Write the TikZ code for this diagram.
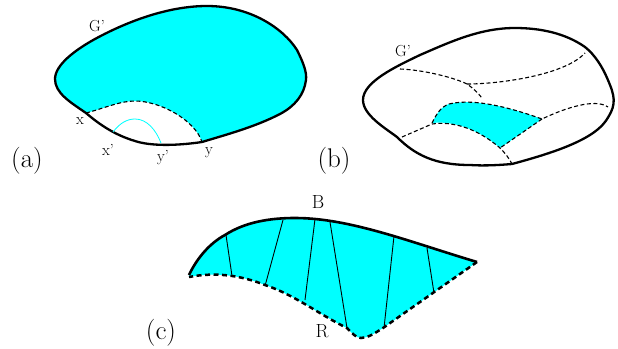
\documentclass[tikz,border=0pt]{standalone}
\definecolor{aqua}{RGB}{0,255,255}
\begin{document}
\begin{tikzpicture}[x=1pt,y=-1pt,
  thickline/.style={black,line width=2.3pt,line join=round},
  dashline/.style={black,line width=1.1pt,dash pattern=on 4pt off 2.5pt},
  boldDash/.style={black,line width=2.5pt,dash pattern=on 5pt off 3.5pt},
  chord/.style={black,line width=.9pt},
  smalllab/.style={font=\fontsize{16}{16}\selectfont,inner sep=0pt},
  midlab/.style={font=\fontsize{19}{19}\selectfont,inner sep=0pt},
  biglab/.style={font=\fontsize{27}{27}\selectfont,inner sep=0pt}]
\useasboundingbox (0,0) rectangle (618,348);
% (a)
\fill[aqua] (86,113) .. controls (70,102) and (55,93) .. (55,79) .. controls (55,65) and (75,50) .. (95,39) .. controls (130,20) and (170,6) .. (207,6) .. controls (250,6) and (283,28) .. (297,50) .. controls (303,62) and (307,72) .. (306,80) .. controls (304,95) and (295,106) .. (280,114) .. controls (255,127) and (225,135) .. (202,142)
 .. controls (195,120) and (160,101) .. (135,101) .. controls (120,101) and (105,108) .. (86,113) -- cycle;
\draw[dashline] (86,113) .. controls (105,108) and (120,101) .. (135,101) .. controls (160,101) and (195,120) .. (202,142);
\draw[thickline] (86,113) .. controls (70,102) and (55,93) .. (55,79) .. controls (55,65) and (75,50) .. (95,39) .. controls (130,20) and (170,6) .. (207,6) .. controls (250,6) and (283,28) .. (297,50) .. controls (303,62) and (307,72) .. (306,80) .. controls (304,95) and (295,106) .. (280,114) .. controls (255,127) and (225,135) .. (202,142) .. controls (175,146) and (150,146) .. (135,141) .. controls (115,135) and (100,125) .. (86,113) -- cycle;
\draw[aqua,line width=.8pt] (113,132) .. controls (120,123) and (127,119) .. (135,119) .. controls (147,119) and (156,130) .. (161,143);
\node[smalllab] (ga) at (97,26) {G'};
\node[smalllab] (xa) at (80,121) {x};
\node[smalllab] (xpa) at (108,150) {x'};
\node[smalllab] (ypa) at (163,158) {y'};
\node[smalllab] (ya) at (209,153) {y};
\node[biglab] (la) at (27,161) {(a)};
% (b)
\fill[aqua] (432,123) .. controls (437,113) and (441,107) .. (449,104) .. controls (470,99) and (500,104) .. (542,119) -- (500,148) .. controls (485,135) and (460,120) .. (432,123) -- cycle;
\draw[thickline] (512,164) .. controls (545,155) and (590,142) .. (605,122) .. controls (615,108) and (616,100) .. (610,85) .. controls (603,67) and (595,55) .. (585,47) .. controls (565,33) and (540,28) .. (515,28) .. controls (480,28) and (450,42) .. (420,55) .. controls (395,67) and (363,82) .. (363,100) .. controls (363,115) and (385,128) .. (397,137) .. controls (415,155) and (435,165) .. (470,165) .. controls (485,166) and (500,165) .. (512,164) -- cycle;
\draw[dashline] (400,69) .. controls (425,70) and (455,78) .. (467,84) .. controls (473,88) and (478,93) .. (482,98);
\draw[dashline] (467,84) .. controls (500,84) and (565,75) .. (585,53);
\draw[dashline] (432,123) .. controls (437,113) and (441,107) .. (449,104) .. controls (470,99) and (500,104) .. (542,119) .. controls (565,108) and (595,98) .. (608,107);
\draw[dashline] (402,137) -- (432,124) .. controls (460,120) and (485,135) .. (500,148) .. controls (505,153) and (509,158) .. (512,164);
\draw[dashline] (542,119) -- (500,148);
\node[smalllab] (gb) at (403,51) {G'};
\node[biglab] (lb) at (334,161) {(b)};
% (c)
\fill[aqua] (189,275) .. controls (197,258) and (210,243) .. (225,235) .. controls (245,222) and (270,218) .. (295,218) .. controls (350,218) and (410,242) .. (477,262) -- (383,328) .. controls (375,333) and (368,338) .. (361,338) .. controls (356,338) and (352,333) .. (347,328) .. controls (320,315) and (295,295) .. (265,285) .. controls (240,275) and (215,272) .. (189,277) -- cycle;
\draw[chord] (226,235) -- (232,276);
\draw[chord] (283,220) -- (265,286);
\draw[chord] (315,219) -- (305,300);
\draw[chord] (330,222) -- (347,328);
\draw[chord] (394,236) -- (384,328);
\draw[chord] (427,248) -- (434,293);
\draw[thickline,line width=2.6pt] (189,275) .. controls (197,258) and (210,243) .. (225,235) .. controls (245,222) and (270,218) .. (295,218) .. controls (350,218) and (410,242) .. (477,262);
\draw[boldDash] (477,262) -- (383,328) .. controls (375,333) and (368,338) .. (361,338) .. controls (356,338) and (352,333) .. (347,328) .. controls (320,315) and (295,295) .. (265,285) .. controls (240,275) and (215,272) .. (189,277);
\node[midlab] (b) at (318,202) {B};
\node[midlab] (r) at (322,331) {R};
\node[biglab] (lc) at (161,333) {(c)};
\end{tikzpicture}
\end{document}
